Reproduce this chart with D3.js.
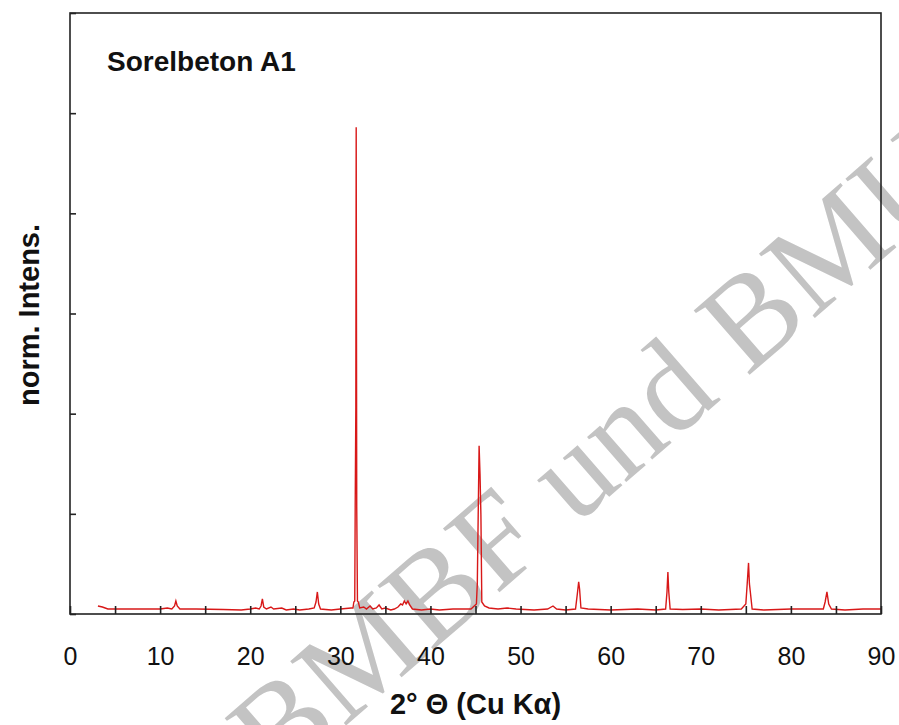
<!DOCTYPE html>
<html>
<head>
<meta charset="utf-8">
<script src="https://cdn.jsdelivr.net/npm/d3@7"></script>
<style>
  html, body { margin: 0; padding: 0; background: #fff; }
  svg { display: block; }
</style>
</head>
<body>
<svg id="chart" width="899" height="725"></svg>
<script>
// ---- data ----
const twoTheta = [
  3.1, 3.6, 4.2, 8.0, 10.0, 10.8, 11.3, 11.6, 11.75, 11.9, 12.2, 14, 17, 19, 20, 20.6, 21.0, 21.2, 21.35, 21.5, 21.8,
  22.3, 22.6, 23.5, 24, 24.8, 25.5, 26.5, 27.1, 27.3, 27.45, 27.6, 27.8, 29, 30, 31.2,
  31.4, 31.5, 31.6, 31.65, 31.72, 31.76, 31.82, 31.9, 32.0, 32.15, 32.6, 32.9, 33.3, 33.6, 34.0, 34.3, 34.6, 35.0,
  35.6, 36.0, 36.4, 36.7, 36.9, 37.1, 37.3, 37.5, 37.7, 38.0, 39, 40, 41, 42.5, 44.5,
  45.1, 45.2, 45.3, 45.4, 45.5, 45.6, 45.7, 46.0, 46.5, 47.5, 48.5, 49.5, 51.5, 53, 53.6, 54.0, 55,
  56.1, 56.3, 56.45, 56.55, 56.7, 57.5, 60, 63, 65,
  66.1, 66.25, 66.35, 66.45, 66.6, 68, 70, 72, 74.5,
  75.0, 75.15, 75.3, 75.4, 75.5, 75.7, 77, 80, 83.6, 83.8, 84.0, 84.2, 84.5, 86, 88, 90
];
const intensity = [
  0.08, 0.07, 0.05, 0.05, 0.05, 0.06, 0.05, 0.08, 0.13, 0.08, 0.05, 0.05, 0.045, 0.04, 0.05, 0.06, 0.05, 0.08, 0.15, 0.07, 0.05,
  0.07, 0.05, 0.06, 0.04, 0.05, 0.04, 0.05, 0.06, 0.12, 0.22, 0.10, 0.05, 0.04, 0.05, 0.06,
  0.06, 0.12, 0.13, 1.07, 2.06, 4.86, 1.07, 0.13, 0.12, 0.06, 0.07, 0.05, 0.08, 0.05, 0.06, 0.09, 0.05, 0.06,
  0.04, 0.05, 0.07, 0.10, 0.09, 0.13, 0.10, 0.13, 0.09, 0.05, 0.04, 0.05, 0.04, 0.05, 0.05,
  0.10, 0.30, 0.99, 1.68, 1.40, 0.99, 0.12, 0.08, 0.06, 0.05, 0.06, 0.05, 0.04, 0.05, 0.08, 0.05, 0.04,
  0.05, 0.20, 0.32, 0.25, 0.06, 0.05, 0.04, 0.05, 0.04,
  0.05, 0.22, 0.42, 0.22, 0.05, 0.045, 0.05, 0.04, 0.05,
  0.10, 0.30, 0.51, 0.30, 0.22, 0.05, 0.04, 0.05, 0.05, 0.12, 0.22, 0.10, 0.05, 0.04, 0.05, 0.05
];
const xTickValues = [0, 5, 10, 15, 20, 25, 30, 35, 40, 45, 50, 55, 60, 65, 70, 75, 80, 85, 90];
const xTickLabels = ["0", "10", "20", "30", "40", "50", "60", "70", "80", "90"];
const yTickValues = [0, 1, 2, 3, 4, 5, 6];
const chartTitle = "Sorelbeton A1";
const xTitle = "2° Θ (Cu Kα)";
const yTitle = "norm. Intens.";
const watermark = "BMBF und BMU";

// ---- layout ----
const svg = d3.select("#chart");
const mL = 70, mR = 881, mT = 13, mB = 614;

const x = d3.scaleLinear().domain([0, 90]).range([mL, mR]);
const y = d3.scaleLinear().domain([0, 6]).range([mB, mT]);

// watermark (behind everything)
svg.append("text")
  .attr("transform", "translate(624,484) rotate(-41)")
  .attr("text-anchor", "middle")
  .attr("font-family", "'Liberation Serif', 'Times New Roman', serif")
  .attr("font-size", 130)
  .attr("fill", "#c3c3c3")
  .text(watermark);

// data line
const pts = twoTheta.map((t, i) => [t, intensity[i]]);
svg.append("path")
  .datum(pts)
  .attr("fill", "none")
  .attr("stroke", "#d81818")
  .attr("stroke-width", 1.4)
  .attr("stroke-linejoin", "miter")
  .attr("d", d3.line().x(d => x(d[0])).y(d => y(d[1])));

// frame
svg.append("rect")
  .attr("x", mL).attr("y", mT)
  .attr("width", mR - mL).attr("height", mB - mT)
  .attr("fill", "none").attr("stroke", "#222").attr("stroke-width", 1.6);

// x axis
const xAxis = d3.axisBottom(x)
  .tickValues(xTickValues)
  .tickSize(-8)
  .tickPadding(33)
  .tickFormat(d => (d % 10 === 0 ? xTickLabels[d / 10] : ""));
const gx = svg.append("g").attr("transform", `translate(0,${mB})`).call(xAxis);
gx.select(".domain").remove();
gx.selectAll(".tick line").attr("stroke", "#222").attr("stroke-width", 1.6);
gx.selectAll(".tick text")
  .attr("font-family", "'Liberation Sans', Arial, sans-serif")
  .attr("font-size", 25)
  .attr("fill", "#111");

// y axis
const yAxis = d3.axisLeft(y)
  .tickValues(yTickValues)
  .tickSize(-6)
  .tickFormat("");
const gy = svg.append("g").attr("transform", `translate(${mL},0)`).call(yAxis);
gy.select(".domain").remove();
gy.selectAll(".tick line").attr("stroke", "#222").attr("stroke-width", 1.6);

// title
svg.append("text")
  .attr("x", 107).attr("y", 71)
  .attr("font-family", "'Liberation Sans', Arial, sans-serif")
  .attr("font-weight", "bold")
  .attr("font-size", 28)
  .attr("fill", "#111")
  .text(chartTitle);

// x title
svg.append("text")
  .attr("x", (mL + mR) / 2).attr("y", 714)
  .attr("text-anchor", "middle")
  .attr("font-family", "'Liberation Sans', Arial, sans-serif")
  .attr("font-weight", "bold")
  .attr("font-size", 29)
  .attr("fill", "#111")
  .text(xTitle);

// y title
svg.append("text")
  .attr("transform", "translate(39,315) rotate(-90)")
  .attr("text-anchor", "middle")
  .attr("font-family", "'Liberation Sans', Arial, sans-serif")
  .attr("font-weight", "bold")
  .attr("font-size", 29)
  .attr("fill", "#111")
  .text(yTitle);
</script>
</body>
</html>
